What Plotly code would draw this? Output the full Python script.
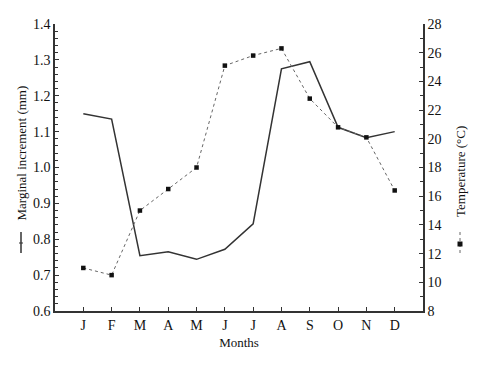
import plotly.graph_objects as go

months = ["J", "F", "M", "A", "M", "J", "J", "A", "S", "O", "N", "D"]
marginal_increment = [1.15, 1.135, 0.754, 0.765, 0.744, 0.772, 0.843, 1.275, 1.295, 1.112, 1.083, 1.10]
temperature = [11.0, 10.5, 15.0, 16.5, 18.0, 25.1, 25.8, 26.3, 22.8, 20.8, 20.1, 16.4]
left_ticks = [0.6, 0.7, 0.8, 0.9, 1.0, 1.1, 1.2, 1.3, 1.4]
right_ticks = [8, 10, 12, 14, 16, 18, 20, 22, 24, 26, 28]

idx = list(range(len(months)))
FONT = "Liberation Serif"

fig = go.Figure()
fig.add_trace(go.Scatter(x=idx, y=marginal_increment, mode="lines",
                         line=dict(color="#333333", width=1.5), yaxis="y"))
fig.add_trace(go.Scatter(x=idx, y=temperature, mode="lines+markers",
                         line=dict(color="#666666", width=1, dash="dot"),
                         marker=dict(symbol="square", size=4.5, color="#111111"),
                         yaxis="y2"))

axis_common = dict(showgrid=False, zeroline=False, showline=True, linecolor="#333333",
                   linewidth=1.5, ticks="inside", tickcolor="#333333", ticklen=4,
                   tickfont=dict(family=FONT, size=14, color="#111111"))

fig.update_layout(
    width=478, height=366,
    margin=dict(l=55, r=55, t=24, b=55),
    paper_bgcolor="white", plot_bgcolor="white",
    showlegend=False,
    xaxis=dict(range=[-1, 12], tickvals=idx, ticktext=months,
               title=dict(text="Months", font=dict(family=FONT, size=13, color="#111111"), standoff=6),
               **axis_common),
    yaxis=dict(range=[0.6, 1.4], tickvals=left_ticks, ticktext=[f"{v:.1f}" for v in left_ticks],
               minor=dict(dtick=0.02, tick0=0.6, ticks="inside", ticklen=3, tickwidth=1,
                          tickcolor="#333333", showgrid=False),
               **axis_common),
    yaxis2=dict(range=[8, 28], tickvals=right_ticks, overlaying="y", side="right",
                minor=dict(dtick=1, tick0=8, ticks="inside", ticklen=3, tickwidth=1,
                           tickcolor="#333333", showgrid=False),
                **axis_common),
)

# axis titles with legend glyphs
fig.add_annotation(text="Marginal increment (mm)", textangle=-90, xref="paper", yref="paper",
                   x=(21 - 55) / 368, y=(311 - 153.5) / 287, showarrow=False,
                   xanchor="center", yanchor="middle",
                   font=dict(family=FONT, size=13, color="#111111"))
fig.add_annotation(text="Temperature (°C)", textangle=-90, xref="paper", yref="paper",
                   x=(460 - 55) / 368, y=(311 - 172) / 287, showarrow=False,
                   xanchor="center", yanchor="middle",
                   font=dict(family=FONT, size=13, color="#111111"))

lx = (21 - 55) / 368
fig.add_shape(type="line", xref="paper", yref="paper", x0=lx, x1=lx,
              y0=(311 - 232) / 287, y1=(311 - 253) / 287, line=dict(color="#333333", width=1.5))
fig.add_shape(type="line", xref="paper", yref="paper", x0=lx - 2 / 368, x1=lx + 2 / 368,
              y0=(311 - 243) / 287, y1=(311 - 243) / 287, line=dict(color="#333333", width=1))
rx = (460 - 55) / 368
fig.add_shape(type="line", xref="paper", yref="paper", x0=rx, x1=rx,
              y0=(311 - 232) / 287, y1=(311 - 255) / 287, line=dict(color="#666666", width=1, dash="dot"))
fig.add_shape(type="rect", xref="paper", yref="paper", x0=rx - 2.5 / 368, x1=rx + 2.5 / 368,
              y0=(311 - 241.5) / 287, y1=(311 - 246.5) / 287, fillcolor="#111111",
              line=dict(width=0))

fig.write_html("out.html")
